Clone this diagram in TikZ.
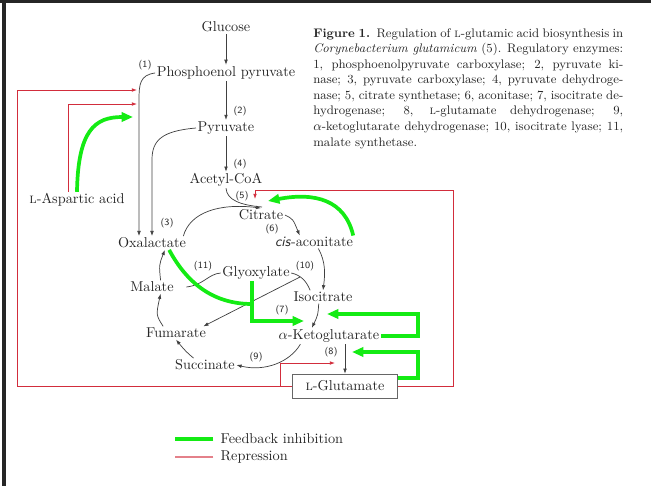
\documentclass[tikz,border=0pt]{standalone}
\usepackage{fontspec}
\usetikzlibrary{positioning, arrows.meta}

\definecolor{inhibgreen}{RGB}{20,235,20}
\definecolor{represred}{RGB}{210,45,60}

\begin{document}
\begin{tikzpicture}[
    x=0.7pt, y=-0.7pt,
    chem/.style={inner sep=1pt, text=black!85, font=\fontsize{10}{12}\selectfont},
    enz/.style={inner sep=0pt, text=black!85, font=\sffamily\fontsize{6.7}{7}\selectfont},
    box/.style={chem, draw=black!60, minimum width=73.5pt, minimum height=16.8pt},
    arrow/.style={-{Latex[length=3.6pt,width=2.6pt]}, black!75, line width=0.5pt},
    link/.style={black!75, line width=0.5pt},
    inhib/.style={-{Triangle[length=8pt,width=6.5pt]}, inhibgreen, line width=2.6pt},
    inhibline/.style={draw=inhibgreen, line width=2.6pt},
    repress/.style={-{Latex[length=3.6pt,width=2.6pt]}, represred, line width=0.6pt},
    repressline/.style={draw=represred!60, line width=0.8pt},
]
\useasboundingbox (0,0) rectangle (651,486);

% Frame
\draw[black!85, line width=2.4pt] (0,1.5) -- (651,1.5);
\draw[black!85, line width=3pt] (4,0) -- (4,486);

% Nodes
\node[chem] (glc)  at (226,27)  {Glucose};
\node[chem] (pep)  at (226,73)  {Phosphoenol pyruvate};
\node[chem] (pyr)  at (226,128) {Pyruvate};
\node[chem] (acoa) at (226,180) {Acetyl-CoA};
\node[chem] (cit)  at (261,215) {Citrate};
\node[chem] (cisa) at (314,242) {\textsf{\textit{cis}}-aconitate};
\node[chem] (iso)  at (323,297) {Isocitrate};
\node[chem] (akg)  at (329,336) {$\alpha$-Ketoglutarate};
\node[box]  (glu)  at (345,386) {\textsc{l}-Glutamate};
\node[chem] (suc)  at (205,365) {Succinate};
\node[chem] (fum)  at (176,333) {Fumarate};
\node[chem] (mal)  at (152,287) {Malate};
\node[chem] (oxa)  at (152,243) {Oxalactate};
\node[chem] (gly)  at (256,273) {Glyoxylate};
\node[chem] (asp)  at (77,200)  {\textsc{l}-Aspartic acid};

% Enzyme numbers
\node[enz] (e1)  at (145,65)  {(1)};
\node[enz] (e2)  at (240,111) {(2)};
\node[enz] (e3)  at (167,223) {(3)};
\node[enz] (e4)  at (240,164) {(4)};
\node[enz] (e5)  at (242,196) {(5)};
\node[enz] (e6)  at (272,229) {(6)};
\node[enz] (e7)  at (282,310) {(7)};
\node[enz] (e8)  at (331,352) {(8)};
\node[enz] (e9)  at (256,357) {(9)};
\node[enz] (e10) at (305,266) {(10)};
\node[enz] (e11) at (203,266) {(11)};

% Caption
\node[anchor=north west, inner sep=0pt, text width=217pt, align=justify,
      text=black!85, font=\fontsize{8.7}{10.9}\selectfont] (cap) at (313,28)
  {\textbf{Figure 1.}\ \ Regulation of \textsc{l}-glutamic acid biosynthesis in\linebreak
   \textit{Corynebacterium glutamicum} (5). Regulatory enzymes:\linebreak
   1, phosphoenolpyruvate carboxylase; 2, pyruvate ki-\linebreak
   nase; 3, pyruvate carboxylase; 4, pyruvate dehydroge-\linebreak
   nase; 5, citrate synthetase; 6, aconitase; 7, isocitrate de-\linebreak
   hydrogenase; 8, \textsc{l}-glutamate dehydrogenase; 9,\linebreak
   $\alpha$-ketoglutarate dehydrogenase; 10, isocitrate lyase; 11,\linebreak
   malate synthetase.\par};

% Targets of the control arrows
\coordinate (t1) at (137,90);
\coordinate (t2) at (137,104);
\coordinate (t3) at (133,117);
\coordinate (t5) at (255,199);
\coordinate (t6) at (268,201);
\coordinate (t7) at (304,321);
\coordinate (t7b) at (327,314);
\coordinate (t8) at (352,352);
\coordinate (t8r) at (335,363);
\coordinate (jn) at (252,304);
\coordinate (lyase) at (300,277);
\coordinate (edge) at (17,90);
\coordinate (br) at (280,386);

% Main pathway
\draw[arrow] (glc) -- (pep);
\draw[arrow] (pep) -- (pyr);
\draw[arrow] (pyr) -- (acoa);
\draw[arrow] (pep.west) .. controls (140,75) and (139,84) .. (139,100) -- ([xshift=-9.1pt]oxa.north);
\draw[arrow] (pyr.west) .. controls (162,131) and (152,140) .. (152,160) -- (oxa.north);

% Cycle
\draw[link] (acoa.south) .. controls (227,200) and (240,205) .. (262,207);
\draw[arrow] ([xshift=-3pt]oxa.north east) .. controls (190,212) and (220,203) .. (cit.north);
\draw[arrow] (cit.east) .. controls (293,219) .. ([xshift=-10pt]cisa.north);
\draw[arrow] ([xshift=3pt]cisa.south) .. controls (326,262) and (325,275) .. (iso.north);
\draw[arrow] ([xshift=-3pt]iso.south) .. controls (318,315) .. ([xshift=-12pt]akg.north);
\draw[arrow] ([xshift=-20pt]akg.south) .. controls (290,362) and (265,372) .. (suc.east);
\draw[arrow] ([xshift=-8pt]suc.north) .. controls (186,352) and (182,347) .. (fum.south);
\draw[arrow] ([xshift=-9pt]fum.north) .. controls (156,315) .. ([xshift=6pt]mal.south);
\draw[arrow] ([xshift=6pt]mal.north) .. controls (159,265) .. ([xshift=9pt]oxa.south);
\draw[link] (gly.west) .. controls (208,274) and (204,285) .. ([xshift=7.7pt]mal.east);
\draw[link] ([xshift=-9pt]iso.north) .. controls (306,280) and (300,275) .. (gly.east);
\draw[arrow] (lyase) -- ([xshift=-3pt]fum.north east);
\draw[arrow] (akg.south -| glu.north) -- (glu.north);

% Feedback inhibition
\draw[inhib] (asp.north) .. controls (78,130) and (95,117) .. (t3);
\draw[inhib] ([xshift=-1pt]cisa.north east) .. controls (345,200) and (315,192) .. (t6);
\draw[inhibline] ([xshift=12pt]oxa.south) .. controls (188,285) and (215,304) .. (jn);
\draw[inhib] (gly.south -| jn) -- (jn) |- (t7);
\draw[inhib] (akg.east) -- ++(37,0) |- (t7b);
\draw[inhib] ([yshift=5.6pt]glu.east) -- ++(20,0) |- (t8);

% Repression
\draw[repress] (glu.west) -| (edge) -- (t1);
\draw[repress] ([xshift=-6.3pt]asp.north) |- (t2);
\draw[repress] (br) |- (t8r);
\draw[repress] (glu.east) -| (453,190) -| (t5);

% Legend
\node[chem, anchor=west] (legfb) at (219,439) {Feedback inhibition};
\node[chem, anchor=west] (legrp) at (219,457) {Repression};
\draw[inhibline] ([xshift=-4pt]legfb.west) -- ++(-38,0);
\draw[repressline] ([xshift=-4pt]legrp.west) -- ++(-38,0);

\end{tikzpicture}
\end{document}
